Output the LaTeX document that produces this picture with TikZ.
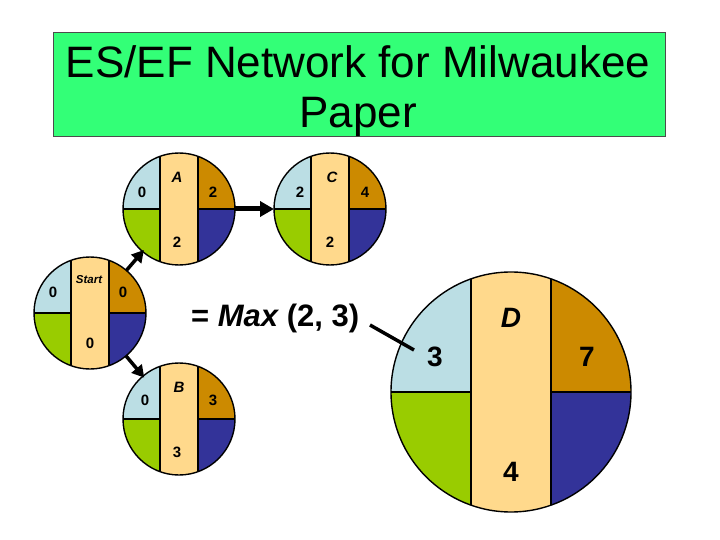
\documentclass[tikz,border=0pt]{standalone}
\usepackage{fontspec}
\setmainfont{Liberation Sans}
\usetikzlibrary{arrows.meta}
\definecolor{qlb}{RGB}{187,222,228}
\definecolor{qbr}{RGB}{204,138,0}
\definecolor{qgr}{RGB}{153,204,0}
\definecolor{qbl}{RGB}{51,51,153}
\definecolor{qband}{RGB}{255,217,140}
\definecolor{titlebg}{RGB}{51,255,119}
\newcommand{\esnet}[5]{%
  \begin{scope}
    \clip (#2,#3) circle[radius=#4pt];
    \fill[qlb] ({#2-#4},{#3-#4}) rectangle (#2,#3);
    \fill[qbr] (#2,{#3-#4}) rectangle ({#2+#4},#3);
    \fill[qgr] ({#2-#4},#3) rectangle (#2,{#3+#4});
    \fill[qbl] (#2,#3) rectangle ({#2+#4},{#3+#4});
    \fill[qband] ({#2-#5},{#3-#4}) rectangle ({#2+#5},{#3+#4});
    \draw[outl] ({#2-#4},#3) -- ({#2-#5},#3) ({#2+#5},#3) -- ({#2+#4},#3);
    \draw[outl] ({#2-#5},{#3-#4}) -- ({#2-#5},{#3+#4}) ({#2+#5},{#3-#4}) -- ({#2+#5},{#3+#4});
  \end{scope}
  \node[circle, draw, outl, minimum size={#4*2pt}, inner sep=0pt, outer sep=0pt] (#1) at (#2,#3) {};
}
\begin{document}
\begin{tikzpicture}[x=1pt,y=-1pt,
  outl/.style={line width=1.4pt, black},
  lbl/.style={font=\bfseries\fontsize{15}{15}\selectfont, inner sep=0pt},
  ilbl/.style={font=\bfseries\itshape\fontsize{15}{15}\selectfont, inner sep=0pt},
  biglbl/.style={font=\bfseries\fontsize{28}{28}\selectfont, inner sep=0pt},
  bigilbl/.style={font=\bfseries\itshape\fontsize{28}{28}\selectfont, inner sep=0pt},
  arr/.style={line width=3.5pt, -{Triangle[length=12pt,width=13pt]}, shorten >=-2pt},
  bigarr/.style={line width=5pt, -{Triangle[length=14pt,width=15pt]}},
  plain/.style={line width=3.5pt}]
\useasboundingbox (0,0) rectangle (720,540);
% title
\node[draw=black!70, line width=0.8pt, fill=titlebg, minimum width=612pt, minimum height=104pt, inner sep=0pt] (titlebox) at (359,84) {};
\node[align=center, font=\fontsize{44}{50}\selectfont, inner sep=0pt] (title) at (358,91) {ES/EF Network for Milwaukee\\Paper};
% activity nodes
\esnet{start}{90}{313}{56}{19}
\esnet{A}{179}{209}{56}{19}
\esnet{C}{330}{209}{56}{19}
\esnet{B}{179}{419}{56}{19}
\esnet{D}{511}{392}{120}{40}
% labels
\node[lbl] (s1) at (53,292) {0};
\node[font=\bfseries\itshape\fontsize{11.5}{11.5}\selectfont, inner sep=0pt] (s2) at (89,280) {Start};
\node[lbl] (s3) at (123,292) {0};
\node[lbl] (s4) at (90,343) {0};
\node[lbl] (a1) at (142,192) {0};
\node[ilbl] (a2) at (177,177) {A};
\node[lbl] (a3) at (213,192) {2};
\node[lbl] (a4) at (177,242) {2};
\node[lbl] (c1) at (300,192) {2};
\node[ilbl] (c2) at (332,177) {C};
\node[lbl] (c3) at (365,192) {4};
\node[lbl] (c4) at (330,242) {2};
\node[lbl] (b1) at (145,400) {0};
\node[ilbl] (b2) at (179,387) {B};
\node[lbl] (b3) at (213,400) {3};
\node[lbl] (b4) at (177,452) {3};
\node[bigilbl] (d2) at (511,318) {D};
\node[biglbl] (d1) at (435,357) {3};
\node[biglbl] (d3) at (587,357) {7};
\node[biglbl] (d4) at (511,472) {4};
\node[anchor=west, inner sep=0pt, font=\bfseries\fontsize{31}{31}\selectfont] (maxt) at (191,318) {= \itshape Max \upshape (2, 3)};
% connectors
\draw[arr] (start) -- (A);
\draw[arr] (start) -- (B);
\draw[bigarr] (A) -- (C);
\coordinate (maxs) at (370,325);
\coordinate (maxe) at (414,350);
\draw[plain] (maxs) -- (maxe);
\end{tikzpicture}
\end{document}
